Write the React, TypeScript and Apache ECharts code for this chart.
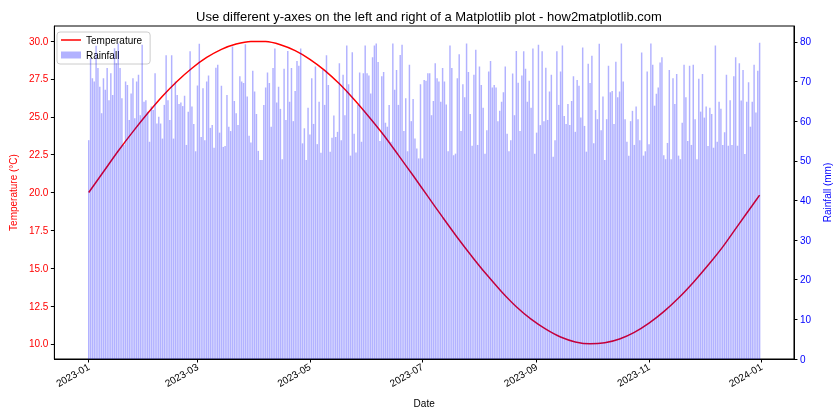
import React, { useEffect, useRef } from "react";
import * as echarts from "echarts";

const TITLE = "Use different y-axes on the left and right of a Matplotlib plot - how2matplotlib.com";
const START_DATE = "2023-01-01";

// Daily rainfall (mm), one value per day from 2023-01-01
const rainfall: number[] = [
  55.2, 75.9, 70.8, 70.0, 79.0, 73.4, 68.7, 62.0, 70.8, 67.9, 73.4, 65.3, 72.1, 66.6, 78.4, 74.6, 79.6, 73.4, 65.8, 54.0,
  70.0, 69.1, 60.3, 67.0, 70.8, 60.7, 70.0, 71.7, 61.5, 79.3, 64.9, 65.3, 62.4, 54.8, 63.7, 62.8, 72.1, 59.4, 61.1, 59.4,
  55.6, 64.1, 76.6, 65.3, 60.3, 76.6, 55.6, 70.0, 66.6, 64.3, 64.7, 63.8, 66.4, 54.0, 62.4, 77.6, 63.7, 59.3, 52.4, 69.0,
  79.5, 56.0, 68.3, 55.2, 70.0, 71.5, 58.3, 59.0, 53.3, 73.5, 74.2, 57.1, 68.9, 53.5, 53.7, 66.6, 58.6, 57.5, 78.8, 65.1, 62.0,
  59.0, 71.3, 70.0, 69.6, 79.4, 66.2, 56.3, 54.6, 72.7, 67.5, 61.8, 52.5, 50.2, 50.2, 64.1, 68.5, 72.3, 69.6, 58.6, 73.4,
  78.3, 64.7, 68.7, 63.1, 50.4, 73.2, 60.3, 77.7, 64.9, 73.4, 60.0, 67.6, 75.2, 74.0, 78.3, 54.4, 58.2, 50.2, 63.4, 56.6, 70.8,
  59.3, 73.8, 54.2, 64.9, 52.0, 72.9, 64.1, 76.6, 69.1, 52.3, 55.8, 61.4, 56.0, 57.3, 74.6, 55.2, 71.7, 61.5, 79.1, 69.3,
  51.3, 77.4, 56.8, 52.1, 64.1, 72.3, 54.8, 72.1, 79.1, 72.1, 71.5, 67.0, 76.1, 79.1, 79.6, 74.9, 55.0, 71.3, 72.4, 59.6, 58.6,
  64.1, 54.8, 79.6, 67.9, 72.9, 64.1, 76.7, 79.3, 57.5, 65.8, 52.4, 74.2, 60.0, 65.6, 55.6, 53.1, 50.6, 69.3, 50.6, 70.4,
  70.2, 72.1, 72.1, 61.5, 65.1, 74.6, 70.8, 70.0, 64.9, 73.4, 70.0, 64.2, 52.4, 79.1, 73.4, 51.4, 51.8, 70.8, 76.9, 57.5, 69.3,
  66.0, 79.6, 72.4, 61.8, 53.8, 71.7, 78.0, 54.0, 73.8, 69.1, 63.4, 51.8, 57.7, 72.5, 75.2, 68.5, 69.1, 68.5, 60.0, 62.6,
  64.9, 67.3, 73.8, 56.8, 52.4, 55.2, 72.0, 61.5, 77.7, 69.7, 57.5, 71.5, 77.6, 73.2, 64.9, 70.2, 63.4, 78.3, 51.8, 57.1, 79.3,
  59.0, 77.6, 60.0, 73.5, 60.3, 67.5, 71.7, 51.0, 55.2, 77.6, 64.1, 72.5, 79.1, 61.3, 59.3, 64.3, 59.0, 65.1, 71.3, 57.3,
  70.4, 68.9, 60.9, 78.6, 58.8, 52.3, 74.5, 69.6, 76.5, 54.4, 62.8, 60.5, 79.5, 57.7, 66.2, 50.2, 60.5, 74.0, 67.3, 67.6, 59.3,
  75.0, 66.0, 67.5, 79.6, 70.0, 60.5, 54.8, 51.3, 60.0, 62.6, 54.0, 63.7, 60.5, 55.2, 77.3, 51.3, 52.4, 72.5, 54.2, 79.6,
  74.2, 63.9, 66.9, 68.5, 74.8, 76.1, 51.4, 50.4, 54.5, 72.9, 50.4, 70.8, 64.3, 71.9, 51.3, 50.4, 59.6, 74.2, 66.0, 55.0, 74.0,
  54.0, 74.2, 60.5, 50.4, 70.7, 62.4, 71.9, 60.9, 63.7, 53.7, 63.4, 61.8, 53.3, 79.1, 54.8, 64.9, 63.1, 54.0, 57.2, 71.7,
  53.8, 65.3, 54.0, 71.3, 76.1, 53.8, 74.6, 65.2, 72.9, 51.7, 64.9, 69.8, 58.6, 64.9, 74.2, 62.2, 72.7, 79.8,
];

// Temperature (°C), at these day offsets from 2023-01-01
const tempDays: number[] = [
  0, 8, 16, 24, 32, 40, 48, 56, 64, 72, 80, 88, 96, 104, 112, 120, 128, 136, 144, 152, 160, 168, 176,
  184, 192, 200, 208, 216, 224, 232, 240, 248, 256, 264, 272, 280, 288, 296, 304, 312, 320, 328, 336,
  344, 352, 360, 364,
];
const tempValues: number[] = [
  20.0, 21.37, 22.74, 24.02, 25.23, 26.36, 27.35, 28.21, 28.92, 29.46, 29.81, 29.98, 29.97, 29.76, 29.37, 28.8, 28.07,
  27.18, 26.15, 25.01, 23.8, 22.47, 21.12, 19.74, 18.37, 17.03, 15.76, 14.56, 13.45, 12.45, 11.63, 10.97, 10.45, 10.13,
  10.0, 10.07, 10.32, 10.76, 11.37, 12.13, 13.03, 14.06, 15.19, 16.41, 17.78, 19.14, 19.83,
];

const xTickLabels: string[] = ["2023-01", "2023-03", "2023-05", "2023-07", "2023-09", "2023-11", "2024-01"];
const tempTicks: number[] = [10, 12.5, 15, 17.5, 20, 22.5, 25, 27.5, 30];
const rainTicks: number[] = [0, 10, 20, 30, 40, 50, 60, 70, 80];

const DAY = 86400000;
const toTs = (s: string) => {
  const [y, m, d] = s.split("-").map(Number);
  return Date.UTC(y, m - 1, d || 1);
};

// legend icon: a thin horizontal line inside a 20x7 box
const LINE_ICON =
  "path://M0,0L20,0L20,0.01ZM0,7L20,7L20,7.01ZM0,2.75L20,2.75L20,4.25L0,4.25Z";

export default function App() {
  const ref = useRef<HTMLDivElement>(null);
  useEffect(() => {
    if (!ref.current) return;
    const chart = echarts.init(ref.current, null, { renderer: "svg" });
    const start = toTs(START_DATE);
    const barData = rainfall.map((v, i) => [start + i * DAY, v]);
    const lineData = tempDays.map((d, i) => [start + d * DAY, tempValues[i]]);
    const xTickValues = xTickLabels.map((s) => toTs(s));
    const font = "Liberation Sans";
    chart.setOption({
      animation: false,
      textStyle: { fontFamily: font },
      title: {
        text: TITLE,
        left: 424,
        textAlign: "center",
        top: 5,
        textStyle: { fontSize: 13, fontWeight: "normal", color: "#000", fontFamily: font },
      },
      legend: {
        orient: "vertical",
        left: 57,
        top: 32,
        z: 1,
        itemWidth: 20,
        itemHeight: 7,
        itemGap: 5,
        padding: [3, 8, 4, 4],
        backgroundColor: "rgba(255,255,255,0.8)",
        borderColor: "#cccccc",
        borderWidth: 1,
        borderRadius: 3,
        textStyle: { fontSize: 10, color: "#000", fontFamily: font },
        data: [{ name: "Temperature", icon: LINE_ICON }, { name: "Rainfall", icon: "rect" }],
      },
      grid: {
        left: 52,
        right: 43,
        top: 26,
        bottom: 61,
        show: true,
        borderColor: "#000",
        borderWidth: 1,
        backgroundColor: "transparent",
      },
      xAxis: {
        type: "value",
        min: start - 18.64 * DAY,
        max: start + 382.64 * DAY,
        name: "Date",
        nameLocation: "middle",
        nameGap: 39,
        nameTextStyle: { fontSize: 10, color: "#000", fontFamily: font },
        axisLine: { show: true, lineStyle: { color: "#000", width: 1 } },
        axisTick: { show: true, length: 3.5, lineStyle: { color: "#000" }, customValues: xTickValues },
        axisLabel: {
          rotate: 30,
          margin: 7,
          fontSize: 10,
          color: "#000",
          fontFamily: font,
          customValues: xTickValues,
          formatter: (v: number) => {
            const d = new Date(v);
            const m = d.getUTCMonth() + 1;
            return `${d.getUTCFullYear()}-${m < 10 ? "0" + m : m}`;
          },
        },
        splitLine: { show: false },
      },
      yAxis: [
        {
          type: "value",
          position: "left",
          min: 9,
          max: 31,
          name: "Temperature (°C)",
          nameLocation: "middle",
          nameGap: 36,
          nameTextStyle: { fontSize: 10, color: "#ff0000", fontFamily: font },
          axisLine: { show: true, lineStyle: { color: "#000", width: 1 } },
          axisTick: { show: true, length: 3.5, lineStyle: { color: "#000" }, customValues: tempTicks },
          axisLabel: {
            fontSize: 10,
            color: "#ff0000",
            margin: 6,
            fontFamily: font,
            customValues: tempTicks,
            formatter: (v: number) => v.toFixed(1),
          },
          splitLine: { show: false },
        },
        {
          type: "value",
          position: "right",
          min: 0,
          max: 84,
          name: "Rainfall (mm)",
          nameLocation: "middle",
          nameRotate: 90,
          nameGap: 21,
          nameTextStyle: { fontSize: 10, color: "#0000ff", fontFamily: font },
          axisLine: { show: true, lineStyle: { color: "#000", width: 1 } },
          axisTick: { show: true, length: 3.5, lineStyle: { color: "#000" }, customValues: rainTicks },
          axisLabel: {
            fontSize: 10,
            color: "#0000ff",
            margin: 6,
            fontFamily: font,
            customValues: rainTicks,
            formatter: (v: number) => String(v),
          },
          splitLine: { show: false },
        },
      ],
      series: [
        {
          name: "Temperature",
          type: "line",
          yAxisIndex: 0,
          data: lineData,
          smooth: 0.3,
          symbol: "none",
          z: 2,
          lineStyle: { color: "#ff0000", width: 1.5 },
          itemStyle: { color: "#ff0000" },
        },
        {
          name: "Rainfall",
          type: "bar",
          yAxisIndex: 1,
          data: barData,
          barWidth: "80%",
          z: 3,
          itemStyle: { color: "rgba(0,0,255,0.3)" },
        },
      ],
    });
    return () => chart.dispose();
  }, []);
  return <div ref={ref} style={{ position: "fixed", left: 0, top: 0, width: 840, height: 420 }} />;
}
